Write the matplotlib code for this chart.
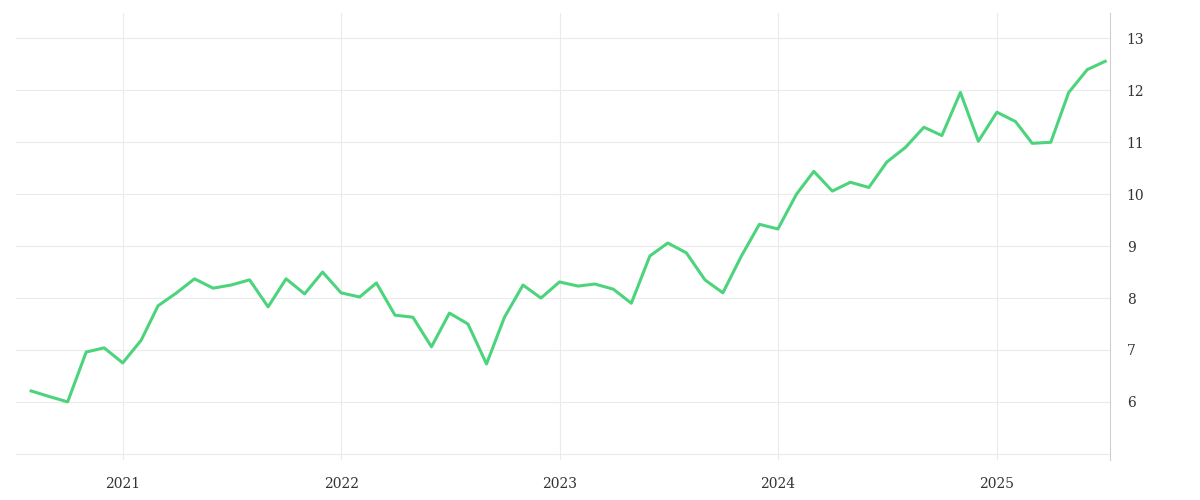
import matplotlib
matplotlib.use("Agg")
import matplotlib.pyplot as plt
import matplotlib.dates as mdates
import pandas as pd

dates = pd.date_range("2020-08-01", periods=60, freq="MS")
values = [6.21, 6.10, 6.00, 6.96, 7.04, 6.75, 7.19, 7.85, 8.10, 8.37,
          8.19, 8.25, 8.35, 7.83, 8.37, 8.08, 8.50, 8.10, 8.02, 8.29,
          7.67, 7.63, 7.06, 7.71, 7.50, 6.73, 7.63, 8.25, 8.00, 8.31,
          8.23, 8.27, 8.17, 7.90, 8.81, 9.06, 8.87, 8.35, 8.10, 8.81,
          9.42, 9.33, 10.00, 10.44, 10.06, 10.23, 10.13, 10.62, 10.90, 11.29,
          11.13, 11.96, 11.02, 11.58, 11.40, 10.98, 11.00, 11.96, 12.40, 12.56]
yticks = [5, 6, 7, 8, 9, 10, 11, 12, 13]
ytick_labels = ["", "6", "7", "8", "9", "10", "11", "12", "13"]

fig = plt.figure(figsize=(12, 5), dpi=100)
ax = fig.add_axes([0.013, 0.08, 0.912, 0.895])
ax.plot(dates, values, color="#4cd47c", lw=2.2)

ax.set_xlim(pd.Timestamp("2020-07-06"), pd.Timestamp("2025-07-09"))
ax.set_ylim(4.88, 13.5)
ax.xaxis.set_major_locator(mdates.YearLocator())
ax.xaxis.set_major_formatter(mdates.DateFormatter("%Y"))
ax.set_yticks(yticks)
ax.set_yticklabels(ytick_labels)
ax.yaxis.tick_right()
ax.grid(True, color="#ebebeb", lw=0.8)
for s in ("top", "left", "bottom"):
    ax.spines[s].set_visible(False)
ax.spines["right"].set_color("#d0d0d0")
ax.tick_params(length=0, labelsize=10, colors="#333333", pad=12)
for lab in ax.get_xticklabels() + ax.get_yticklabels():
    lab.set_family("DejaVu Serif")
fig.savefig("out.png")
